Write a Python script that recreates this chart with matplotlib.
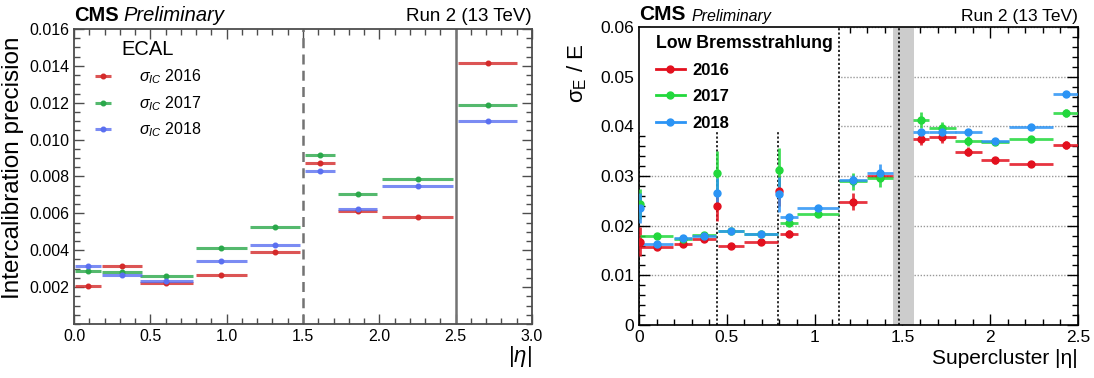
import matplotlib
matplotlib.use('Agg')
import matplotlib.pyplot as plt
import numpy as np
from matplotlib.lines import Line2D
from matplotlib.patches import Rectangle
from matplotlib.ticker import MultipleLocator, FixedLocator, FuncFormatter

plt.rcParams['font.family'] = ['Liberation Sans', 'DejaVu Sans']
plt.rcParams['mathtext.fontset'] = 'custom'
plt.rcParams['mathtext.rm'] = 'Liberation Sans'
plt.rcParams['mathtext.it'] = 'Liberation Sans:italic'
plt.rcParams['mathtext.bf'] = 'Liberation Sans:bold'

# ---------------- Left panel data: intercalibration precision ----------------
ic_eta_center = [0.09, 0.315, 0.605, 0.965, 1.315, 1.61, 1.857, 2.25, 2.71]
ic_eta_halfw = [0.085, 0.13, 0.175, 0.165, 0.165, 0.10, 0.125, 0.23, 0.195]
ic_2016 = [0.00204, 0.00314, 0.00222, 0.00265, 0.00389, 0.00872, 0.00613, 0.00582, 0.01416]
ic_2017 = [0.00285, 0.00283, 0.00259, 0.00414, 0.00526, 0.00919, 0.00706, 0.00786, 0.01186]
ic_2018 = [0.00314, 0.00268, 0.00234, 0.00340, 0.00429, 0.00831, 0.00623, 0.00751, 0.01100]
ic_labels = [r'$\sigma_{IC}$ 2016', r'$\sigma_{IC}$ 2017', r'$\sigma_{IC}$ 2018']
ic_colors = ['#d42a2a', '#2aa84a', '#5a6ff0']

# ---------------- Right panel data: energy resolution ----------------
res_eta_center = [0.006, 0.10, 0.25, 0.37, 0.447, 0.525, 0.695, 0.795, 0.853, 1.02,
                  1.22, 1.372, 1.606, 1.727, 1.876, 2.028, 2.23, 2.43]
res_eta_halfw = [0.006, 0.095, 0.05, 0.07, 0.004, 0.075, 0.095, 0.004, 0.05, 0.12,
                 0.08, 0.075, 0.043, 0.077, 0.075, 0.078, 0.125, 0.075]
res_2016 = [0.0168, 0.0158, 0.0164, 0.0173, 0.0240, 0.01585, 0.01666, 0.0270, 0.0184, np.nan,
            0.0248, 0.0300, 0.0375, 0.0379, 0.0349, 0.0332, 0.0325, 0.0362]
res_2017 = [0.0244, 0.01787, 0.0174, 0.0182, 0.0307, 0.0189, 0.0183, 0.0312, 0.0205, 0.0224,
            0.0289, 0.0295, 0.0412, 0.0397, 0.0371, 0.0368, 0.0374, 0.0426]
res_2018 = [0.0235, 0.0164, 0.0176, 0.0180, 0.0266, 0.0190, 0.0183, 0.0263, 0.0217, 0.0235,
            0.0291, 0.0307, 0.0389, 0.0389, 0.0389, 0.0370, 0.0398, 0.0466]
res_err_2016 = [0.003, 0.0005, 0.0005, 0.0005, 0.003, 0.0004, 0.0004, 0.003, 0.0007, np.nan,
                0.0017, 0.0008, 0.0013, 0.0012, 0.0009, 0.0007, 0.0004, 0.0008]
res_err_2017 = [0.003, 0.0004, 0.0005, 0.0005, 0.0044, 0.0004, 0.0004, 0.0044, 0.0006, 0.0006,
                0.0018, 0.0018, 0.0016, 0.0011, 0.001, 0.0006, 0.0004, 0.0008]
res_err_2018 = [0.003, 0.0004, 0.0004, 0.0004, 0.003, 0.0003, 0.0003, 0.0035, 0.0006, 0.0004,
                0.0012, 0.0017, 0.0005, 0.0005, 0.0005, 0.0004, 0.0004, 0.0004]
res_labels = ['2016', '2017', '2018']
res_colors = ['#e3101e', '#22d83c', '#2b94f5']
module_edges = [0.0, 0.4442, 0.7915, 1.1385, 1.479]
gap_band = [1.4442, 1.566]

fig = plt.figure(figsize=(10.94, 3.78), dpi=100)
W, H = 1094, 378
ax1 = fig.add_axes([74 / W, 1 - 324 / H, (532 - 74) / W, (324 - 29) / H])
ax2 = fig.add_axes([639 / W, 1 - 325 / H, (1078 - 639) / W, (325 - 27) / H])

# ---------------- Left panel ----------------
for vals, lab, col in zip([ic_2016, ic_2017, ic_2018], ic_labels, ic_colors):
    ax1.errorbar(ic_eta_center, vals, xerr=ic_eta_halfw, fmt='o', ms=3.3, color=col,
                 ecolor=matplotlib.colors.to_rgba(col, 0.8), elinewidth=2.2, capsize=0,
                 label=lab, zorder=3)
ax1.axvline(1.5, color='0.45', ls=(0, (4, 2.5)), lw=1.8, zorder=2)
ax1.axvline(2.5, color='0.45', ls='-', lw=1.8, zorder=2)
ax1.set_xlim(0, 3.0)
ax1.set_ylim(0, 0.016)
ax1.xaxis.set_major_locator(MultipleLocator(0.5))
ax1.xaxis.set_minor_locator(MultipleLocator(0.1))
ax1.yaxis.set_major_locator(FixedLocator([0.002, 0.004, 0.006, 0.008, 0.010, 0.012, 0.014, 0.016]))
ax1.yaxis.set_minor_locator(MultipleLocator(0.0005))
ax1.xaxis.set_major_formatter(FuncFormatter(lambda v, p: '%.1f' % v))
ax1.yaxis.set_major_formatter(FuncFormatter(lambda v, p: '%.3f' % v))
ax1.tick_params(which='both', direction='in', top=True, right=True, labelsize=11.5,
                color='0.3', width=1.0)
ax1.tick_params(which='major', length=7)
ax1.tick_params(which='minor', length=4)
for s in ax1.spines.values():
    s.set_color('0.3')
    s.set_linewidth(1.3)
ax1.set_ylabel('Intercalibration precision', fontsize=17.5)
ax1.yaxis.set_label_coords(-0.11, 0.53)
ax1.set_xlabel(r'$|\eta|$', fontsize=16, loc='right', labelpad=0)
leg1 = ax1.legend(title='ECAL', loc='upper left', bbox_to_anchor=(0.012, 1.01), frameon=False,
                  fontsize=11.5, title_fontsize=14.5, handlelength=1.2, handletextpad=1.6,
                  labelspacing=0.5)
ax1.text(0.0, 1.012, 'CMS', transform=ax1.transAxes, fontsize=14.5, fontweight='bold',
         ha='left', va='bottom')
ax1.text(1.0, 1.012, 'Run 2 (13 TeV)', transform=ax1.transAxes, fontsize=13.5,
         ha='right', va='bottom')

# ---------------- Right panel ----------------
ax2.set_axisbelow(True)
ax2.yaxis.grid(True, ls=(0, (1, 1.2)), color='0.6', lw=1.0)
ax2.axvspan(gap_band[0], gap_band[1], color='0.8', lw=0, zorder=1)
for v in module_edges:
    ax2.axvline(v, color='0.1', ls=(0, (1.2, 1.2)), lw=1.3, zorder=1.5)
ax2.add_patch(Rectangle((0, 0.0388), 1.13, 0.06 - 0.0388, facecolor='white',
                        edgecolor='none', zorder=1.8))
for vals, errs, lab, col in zip([res_2016, res_2017, res_2018],
                                [res_err_2016, res_err_2017, res_err_2018],
                                res_labels, res_colors):
    ax2.errorbar(res_eta_center, vals, xerr=res_eta_halfw, yerr=errs, fmt='o', ms=5,
                 color=col, ecolor=matplotlib.colors.to_rgba(col, 0.85), elinewidth=2.0,
                 capsize=0, zorder=3)
ax2.set_xlim(0, 2.5)
ax2.set_ylim(0, 0.06)
ax2.xaxis.set_major_locator(MultipleLocator(0.5))
ax2.xaxis.set_minor_locator(MultipleLocator(0.1))
ax2.yaxis.set_major_locator(MultipleLocator(0.01))
ax2.yaxis.set_minor_locator(MultipleLocator(0.002))
ax2.xaxis.set_major_formatter(FuncFormatter(lambda v, p: '%g' % round(v, 3)))
ax2.yaxis.set_major_formatter(FuncFormatter(lambda v, p: '%g' % round(v, 3)))
ax2.tick_params(which='both', direction='in', top=True, right=True, labelsize=12.5, width=1.0)
ax2.tick_params(which='major', length=8)
ax2.tick_params(which='minor', length=4)
for s in ax2.spines.values():
    s.set_linewidth(1.2)
ax2.set_ylabel(r'$\mathrm{\sigma_{E}}$ / E', fontsize=16, loc='top')
ax2.yaxis.set_label_coords(-0.115, 0.945)
ax2.set_xlabel('Supercluster |η|', fontsize=15, loc='right', labelpad=3)
handles = [Line2D([], [], color=c, marker='o', ms=5, lw=2) for c in res_colors]
leg2 = ax2.legend(handles, res_labels, title='Low Bremsstrahlung', loc='upper left',
                  bbox_to_anchor=(0.005, 1.025), frameon=False,
                  prop={'weight': 'bold', 'size': 12},
                  title_fontproperties={'weight': 'bold', 'size': 12.8},
                  handlelength=1.7, handletextpad=0.5, labelspacing=0.68, alignment='left')
leg2.set_zorder(5)
ax2.text(0.0, 1.01, 'CMS', transform=ax2.transAxes, fontsize=15, fontweight='bold',
         ha='left', va='bottom')
ax2.text(1.0, 1.01, 'Run 2 (13 TeV)', transform=ax2.transAxes, fontsize=12.5,
         ha='right', va='bottom')

# "Preliminary" placed just after the bold CMS label
fig.canvas.draw()
r = fig.canvas.get_renderer()
for ax, size, gap in [(ax1, 14.5, 5), (ax2, 11.5, 6)]:
    cms = [t for t in ax.texts if t.get_text() == 'CMS'][0]
    bb = cms.get_window_extent(r)
    x_ax, _ = ax.transAxes.inverted().transform((bb.x1 + gap, bb.y0))
    ax.text(x_ax, 1.012 if ax is ax1 else 1.01, 'Preliminary', transform=ax.transAxes,
            fontsize=size, fontstyle='italic', ha='left', va='bottom')

fig.savefig('out.png', dpi=100)
